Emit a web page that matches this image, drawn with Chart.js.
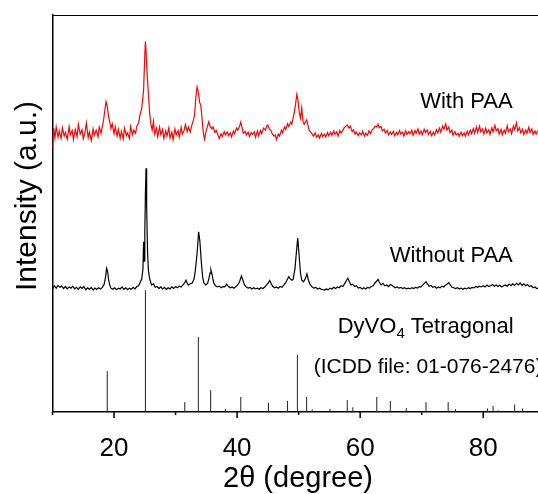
<!DOCTYPE html>
<html lang="en">
<head>
<meta charset="UTF-8">
<title>XRD - DyVO4</title>
<script src="https://cdn.jsdelivr.net/npm/chart.js@4.4.0/dist/chart.umd.min.js"></script>
<style>
    html, body { margin: 0; padding: 0; background: #fff; }
    #chart { display: block; }
</style>
</head>
<body>

<canvas id="chart" width="538" height="494"></canvas>

<script>
    // 2theta (degree), intensity (a.u., already offset for stacking)
    var withPAA = [
        [10.0,66.5],[10.2,71.5],[10.4,69.0],[10.6,71.8],[10.9,69.2],[11.1,70.8],[11.4,68.9],[11.6,71.6],[11.9,69.5],[12.1,70.4],
        [12.4,68.7],[12.7,71.9],[12.9,69.8],[13.2,70.9],[13.4,68.6],[13.7,71.2],[14.0,69.4],[14.2,72.5],[14.5,70.0],[14.8,71.1],
        [15.0,68.8],[15.3,70.6],[15.5,72.8],[15.8,69.1],[16.0,70.5],[16.3,68.4],[16.6,71.3],[16.8,69.7],[17.1,71.0],[17.4,69.3],
        [17.6,71.8],[17.9,70.2],[18.1,72.0],[18.3,73.5],[18.5,76.0],[18.7,78.2],[18.9,77.0],[19.1,74.5],[19.3,73.0],[19.5,71.4],
        [19.7,72.6],[20.0,70.1],[20.2,71.8],[20.5,69.5],[20.7,71.2],[21.0,69.0],[21.2,70.7],[21.5,68.8],[21.7,71.5],[22.0,69.6],
        [22.2,70.3],[22.5,68.9],[22.7,71.9],[23.0,69.8],[23.2,71.0],[23.5,70.2],[23.7,72.0],[24.0,72.8],[24.2,74.8],[24.5,76.5],
        [24.8,81.0],[25.0,90.0],[25.1,93.3],[25.2,91.0],[25.4,84.5],[25.6,79.8],[25.8,75.0],[26.0,72.5],[26.2,71.0],[26.4,73.2],
        [26.6,70.0],[26.9,71.5],[27.1,69.3],[27.4,71.8],[27.6,69.9],[27.9,71.2],[28.1,68.9],[28.4,70.8],[28.6,69.5],[28.9,71.6],
        [29.1,69.0],[29.4,70.5],[29.6,68.6],[29.9,71.3],[30.1,69.8],[30.4,70.9],[30.6,69.2],[30.9,71.7],[31.1,70.0],[31.4,71.0],
        [31.6,72.4],[31.9,70.6],[32.1,71.8],[32.4,70.5],[32.6,72.0],[32.9,73.5],[33.1,75.0],[33.3,79.5],[33.5,81.9],[33.7,80.5],
        [33.9,78.0],[34.1,77.3],[34.3,74.0],[34.5,70.5],[34.7,68.7],[34.9,70.3],[35.1,71.5],[35.4,73.1],[35.6,72.0],[35.9,71.3],
        [36.1,71.8],[36.4,70.4],[36.6,71.0],[36.9,69.7],[37.1,68.9],[37.4,70.1],[37.6,69.4],[37.9,70.6],[38.1,69.8],[38.4,70.5],
        [38.6,69.6],[38.9,70.3],[39.1,69.3],[39.4,70.8],[39.6,70.1],[39.9,71.5],[40.1,71.0],[40.4,72.0],[40.6,73.0],[40.8,71.6],
        [41.0,70.2],[41.3,70.7],[41.5,69.8],[41.8,70.5],[42.0,69.4],[42.3,70.4],[42.5,69.9],[42.8,70.6],[43.0,69.2],[43.3,70.8],
        [43.5,69.6],[43.8,70.9],[44.0,70.1],[44.3,71.5],[44.6,71.0],[44.8,72.0],[45.0,72.3],[45.2,71.4],[45.5,70.9],[45.7,70.1],
        [46.0,69.5],[46.2,69.8],[46.4,68.6],[46.7,70.0],[46.9,69.5],[47.2,71.0],[47.4,70.3],[47.7,71.8],[47.9,71.2],[48.2,72.6],
        [48.4,71.9],[48.7,73.0],[48.9,72.5],[49.1,74.0],[49.3,75.6],[49.5,77.5],[49.7,80.0],[49.9,78.5],[50.1,75.5],[50.3,74.0],
        [50.5,76.6],[50.7,73.2],[50.9,72.5],[51.1,73.0],[51.3,73.6],[51.5,72.4],[51.7,71.0],[51.9,70.6],[52.2,70.0],[52.4,69.5],
        [52.7,70.3],[52.9,69.2],[53.2,69.8],[53.4,69.0],[53.7,70.2],[53.9,69.4],[54.2,70.0],[54.4,69.3],[54.7,70.4],[54.9,69.6],
        [55.2,70.5],[55.4,69.7],[55.7,70.8],[55.9,69.9],[56.2,70.6],[56.4,69.5],[56.7,70.9],[56.9,70.2],[57.2,71.0],[57.4,71.6],
        [57.7,72.0],[57.9,72.3],[58.2,71.5],[58.4,72.0],[58.7,70.6],[58.9,71.1],[59.2,70.0],[59.4,70.5],[59.7,69.6],[59.9,70.3],
        [60.2,69.8],[60.4,70.7],[60.7,69.5],[60.9,70.2],[61.2,69.7],[61.4,70.8],[61.7,70.1],[61.9,71.0],[62.2,71.4],[62.4,72.0],
        [62.7,71.8],[62.9,72.5],[63.1,71.6],[63.4,71.9],[63.6,70.8],[63.9,71.2],[64.1,70.3],[64.4,70.9],[64.6,69.8],[64.9,70.6],
        [65.1,69.9],[65.4,70.7],[65.6,69.6],[65.9,70.4],[66.1,69.8],[66.4,70.9],[66.6,70.0],[66.9,70.5],[67.1,69.5],[67.4,70.8],
        [67.6,69.9],[67.9,70.6],[68.1,70.1],[68.4,71.0],[68.6,69.7],[68.9,70.9],[69.1,70.2],[69.4,71.3],[69.6,70.0],[69.9,70.8],
        [70.1,69.8],[70.4,71.2],[70.6,70.4],[70.9,71.0],[71.1,69.9],[71.4,70.7],[71.6,69.6],[71.9,70.5],[72.1,69.8],[72.4,71.1],
        [72.6,70.3],[72.9,71.5],[73.1,70.5],[73.4,72.0],[73.6,71.2],[73.9,72.6],[74.1,71.0],[74.4,71.8],[74.6,70.4],[74.9,71.0],
        [75.1,69.7],[75.4,70.6],[75.6,69.8],[75.9,70.2],[76.1,69.4],[76.4,70.5],[76.6,69.6],[76.9,70.3],[77.1,69.5],[77.4,70.7],
        [77.6,69.8],[77.9,71.0],[78.1,70.1],[78.4,71.4],[78.6,70.2],[78.9,71.8],[79.1,70.4],[79.4,72.0],[79.6,70.6],[79.9,71.3],
        [80.1,70.0],[80.4,71.5],[80.6,70.3],[80.9,71.1],[81.1,69.9],[81.4,71.6],[81.6,70.5],[81.9,72.2],[82.1,70.8],[82.4,71.4],
        [82.6,70.0],[82.9,71.2],[83.1,69.8],[83.4,71.0],[83.6,70.2],[83.9,72.1],[84.1,70.6],[84.4,71.3],[84.6,70.1],[84.9,72.0],
        [85.1,71.1],[85.4,72.8],[85.6,70.8],[85.9,71.6],[86.1,70.3],[86.4,71.2],[86.6,69.9],[86.9,71.0],[87.1,70.2],[87.4,71.7],
        [87.6,70.4],[87.9,71.3],[88.1,69.9],[88.4,70.8],[88.6,70.0],[88.9,70.9]
    ];

    var withoutPAA = [
        [10.0,31.0],[10.3,31.8],[10.6,31.2],[10.9,31.9],[11.2,31.4],[11.5,31.7],[11.8,31.1],[12.1,31.6],[12.4,31.0],[12.7,31.5],
        [13.0,31.2],[13.3,31.7],[13.6,31.0],[13.9,31.4],[14.2,30.9],[14.5,31.5],[14.8,31.1],[15.1,31.6],[15.4,30.8],[15.7,31.3],
        [16.0,30.9],[16.3,31.4],[16.6,30.7],[16.9,31.2],[17.2,30.9],[17.5,31.3],[17.8,31.0],[18.1,31.4],[18.4,32.2],[18.6,33.8],
        [18.8,36.2],[18.95,35.5],[19.1,33.5],[19.3,32.0],[19.5,31.2],[19.8,30.9],[20.1,31.3],[20.4,30.8],[20.7,31.2],[21.0,31.0],
        [21.3,31.5],[21.6,30.9],[21.9,31.3],[22.2,30.8],[22.5,31.2],[22.8,30.9],[23.1,31.4],[23.4,31.0],[23.7,31.6],[24.0,31.8],
        [24.2,32.5],[24.5,33.5],[24.7,36.0],[24.8,42.9],[24.9,38.0],[25.0,45.0],[25.1,55.0],[25.2,61.4],[25.3,52.0],[25.45,40.0],
        [25.6,35.5],[25.8,33.5],[26.1,32.0],[26.4,32.3],[26.7,31.4],[27.0,31.6],[27.3,31.1],[27.6,31.5],[27.9,31.0],[28.2,31.4],
        [28.5,30.9],[28.8,31.3],[29.1,31.0],[29.4,31.5],[29.7,31.1],[30.0,31.6],[30.3,31.3],[30.6,31.7],[30.9,31.5],[31.2,32.0],
        [31.5,32.6],[31.7,33.2],[31.9,32.4],[32.1,32.0],[32.4,32.3],[32.7,32.5],[33.0,33.5],[33.2,35.5],[33.5,40.0],[33.75,45.4],
        [33.95,43.0],[34.2,37.5],[34.4,34.0],[34.6,32.5],[34.9,32.0],[35.2,32.4],[35.4,33.5],[35.6,35.0],[35.75,35.8],[35.95,34.5],
        [36.2,32.5],[36.5,31.8],[36.8,31.5],[37.1,31.7],[37.4,31.3],[37.7,31.6],[38.0,31.5],[38.3,32.2],[38.6,31.6],[38.9,31.3],
        [39.2,31.5],[39.5,31.2],[39.8,31.6],[40.1,32.0],[40.4,32.8],[40.7,34.3],[40.95,33.2],[41.2,32.0],[41.5,31.5],[41.8,31.2],
        [42.1,31.4],[42.4,31.0],[42.7,31.3],[43.0,31.0],[43.3,31.2],[43.6,30.9],[43.9,31.3],[44.2,31.1],[44.5,31.5],[44.8,32.0],
        [45.1,32.6],[45.3,33.1],[45.55,32.3],[45.8,31.6],[46.1,31.3],[46.4,31.5],[46.7,31.2],[47.0,31.6],[47.3,31.4],[47.6,32.0],
        [47.9,32.6],[48.2,33.5],[48.4,34.1],[48.6,33.6],[48.9,33.2],[49.1,33.4],[49.4,36.0],[49.65,40.5],[49.85,43.8],[50.05,40.0],
        [50.3,35.0],[50.5,33.2],[50.8,32.8],[51.1,33.6],[51.35,34.8],[51.6,33.2],[51.9,32.0],[52.2,31.5],[52.5,31.2],[52.8,31.4],
        [53.1,31.0],[53.4,31.2],[53.7,30.9],[54.0,30.8],[54.2,30.7],[54.5,31.0],[54.8,30.8],[55.1,31.2],[55.4,31.0],[55.7,31.4],
        [56.0,31.1],[56.3,31.5],[56.6,31.3],[56.9,31.8],[57.2,31.6],[57.5,32.4],[57.8,33.2],[58.0,33.7],[58.25,32.8],[58.5,32.0],
        [58.8,32.2],[59.1,31.6],[59.4,31.8],[59.7,31.2],[60.0,31.4],[60.3,31.0],[60.6,31.3],[60.9,31.0],[61.2,31.4],[61.5,31.2],
        [61.8,31.6],[62.1,31.8],[62.4,32.5],[62.7,33.0],[62.9,33.4],[63.15,32.6],[63.4,32.0],[63.7,32.4],[64.0,31.8],[64.3,32.0],
        [64.6,31.6],[64.9,32.1],[65.1,32.0],[65.4,31.6],[65.7,31.3],[66.0,31.5],[66.3,31.2],[66.6,31.4],[66.9,31.1],[67.2,31.3],
        [67.5,31.0],[67.8,31.2],[68.1,31.0],[68.4,31.3],[68.7,31.1],[69.0,31.4],[69.3,31.2],[69.6,31.6],[69.9,31.5],[70.2,32.0],
        [70.5,32.5],[70.7,32.8],[70.95,32.2],[71.2,31.7],[71.5,31.9],[71.8,31.4],[72.1,31.6],[72.4,31.2],[72.7,31.5],[73.0,31.3],
        [73.3,31.7],[73.6,31.5],[73.9,32.0],[74.2,32.3],[74.4,32.6],[74.65,32.0],[74.9,31.5],[75.2,31.3],[75.5,31.1],[75.8,31.3],
        [76.1,31.0],[76.4,31.2],[76.7,30.9],[77.0,31.2],[77.3,31.0],[77.6,31.3],[77.9,31.1],[78.2,31.4],[78.5,31.3],[78.8,31.6],
        [79.1,31.4],[79.4,31.7],[79.7,31.5],[80.0,31.8],[80.3,31.5],[80.6,32.0],[80.9,31.6],[81.2,31.8],[81.5,32.1],[81.8,31.7],
        [82.1,32.0],[82.4,31.6],[82.7,31.9],[83.0,31.5],[83.3,31.8],[83.6,32.0],[83.9,31.7],[84.2,32.2],[84.5,31.8],[84.8,32.3],
        [85.1,31.9],[85.4,32.4],[85.7,32.0],[86.0,32.5],[86.3,31.9],[86.6,32.3],[86.9,31.8],[87.2,32.1],[87.5,31.6],[87.8,31.8],
        [88.1,31.3],[88.4,31.5],[88.7,31.1],[89.0,31.2]
    ];

    // DyVO4 tetragonal reference lines (ICDD 01-076-2476)
    var refPos = [18.9, 25.1, 31.5, 33.7, 35.7, 38.1, 40.6, 45.1, 48.2, 49.8, 51.3, 52.2, 55.1, 57.9, 58.8,
                  62.7, 64.9, 67.5, 70.7, 74.3, 75.5, 80.7, 81.6, 82.4, 85.1, 86.4];
    var refInt = [10.3, 30.7, 2.5, 18.9, 5.5, 0.8, 3.8, 2.3, 2.8, 14.4, 3.8, 0.7, 0.8, 3.0, 1.2,
                  3.8, 2.8, 1.0, 2.5, 2.5, 0.7, 0.9, 1.5, 0.4, 1.9, 0.9];

    var majorTicks = [20, 40, 60, 80];
    var minorTicks = [10, 30, 50, 70];

    var FONT = '"Liberation Sans", Arial, sans-serif';

    function toPoints(arr) {
        return arr.map(function (p) { return {x: p[0], y: p[1]}; });
    }

    // each stick: base -> top -> gap
    var stickData = [];
    for (var i = 0; i < refPos.length; i++) {
        stickData.push({x: refPos[i], y: 0}, {x: refPos[i], y: refInt[i]}, {x: refPos[i], y: null});
    }

    var decorPlugin = {
        id: 'decor',
        afterDraw: function (chart) {
            var ctx = chart.ctx;
            var area = chart.chartArea;
            var xs = chart.scales.x;
            var ys = chart.scales.y;
            ctx.save();

            // top frame line
            ctx.strokeStyle = '#000';
            ctx.lineWidth = 1;
            ctx.beginPath();
            ctx.moveTo(area.left, area.top + 0.5);
            ctx.lineTo(area.right, area.top + 0.5);
            ctx.stroke();

            // tick marks, outward
            ctx.lineWidth = 1.5;
            majorTicks.forEach(function (v) {
                var px = xs.getPixelForValue(v);
                ctx.beginPath(); ctx.moveTo(px, area.bottom); ctx.lineTo(px, area.bottom + 6); ctx.stroke();
            });
            minorTicks.forEach(function (v) {
                var px = xs.getPixelForValue(v);
                ctx.beginPath(); ctx.moveTo(px, area.bottom); ctx.lineTo(px, area.bottom + 3); ctx.stroke();
            });

            // curve labels
            ctx.fillStyle = '#000';
            ctx.textAlign = 'left';
            ctx.textBaseline = 'alphabetic';
            ctx.font = '22px ' + FONT;
            ctx.fillText('With PAA', xs.getPixelForValue(69.75), ys.getPixelForValue(76.5));
            ctx.fillText('Without PAA', xs.getPixelForValue(64.8), ys.getPixelForValue(37.8));

            var tx = xs.getPixelForValue(56.35);
            var ty = ys.getPixelForValue(19.9);
            ctx.fillText('DyVO', tx, ty);
            tx += ctx.measureText('DyVO').width;
            ctx.font = '15px ' + FONT;
            ctx.fillText('4', tx, ty + 5);
            tx += ctx.measureText('4').width;
            ctx.font = '22px ' + FONT;
            ctx.fillText(' Tetragonal', tx, ty);

            ctx.font = '21px ' + FONT;
            ctx.fillText('(ICDD file: 01-076-2476)', xs.getPixelForValue(52.45), ys.getPixelForValue(9.8));

            // axis titles
            ctx.font = '29px ' + FONT;
            ctx.textAlign = 'center';
            ctx.fillText('2\u03B8 (degree)', 298, 487);

            ctx.translate(36, 196);
            ctx.rotate(-Math.PI / 2);
            ctx.font = '30px ' + FONT;
            ctx.fillText('Intensity (a.u.)', 0, 0);
            ctx.restore();
        }
    };

    var chart = new Chart(document.getElementById('chart'), {
        type: 'line',
        data: {
            datasets: [
                {
                    label: 'With PAA',
                    data: toPoints(withPAA),
                    borderColor: '#ff0000',
                    borderWidth: 1.2,
                    pointRadius: 0,
                    tension: 0
                },
                {
                    label: 'Without PAA',
                    data: toPoints(withoutPAA),
                    borderColor: '#000000',
                    borderWidth: 1.2,
                    pointRadius: 0,
                    tension: 0
                },
                {
                    label: 'DyVO4 reference',
                    data: stickData,
                    borderColor: '#222222',
                    borderWidth: 1,
                    pointRadius: 0,
                    spanGaps: false
                }
            ]
        },
        options: {
            responsive: false,
            devicePixelRatio: 1,
            animation: false,
            layout: { padding: { top: 15, left: 0, right: 0, bottom: 0 } },
            plugins: {
                legend: { display: false },
                tooltip: { enabled: false }
            },
            scales: {
                x: {
                    type: 'linear',
                    min: 10,
                    max: 88.9,
                    grid: { display: false },
                    border: { display: true, color: '#000', width: 1.5 },
                    ticks: {
                        stepSize: 10,
                        includeBounds: false,
                        autoSkip: false,
                        maxRotation: 0,
                        padding: 13,
                        color: '#000',
                        font: { family: FONT, size: 26 },
                        callback: function (value) {
                            return majorTicks.indexOf(value) >= 0 ? String(value) : '';
                        }
                    },
                    afterFit: function (scale) { scale.height = 82; }
                },
                y: {
                    min: 0,
                    max: 100,
                    grid: { display: false },
                    border: { display: true, color: '#000', width: 1.5 },
                    ticks: { display: false },
                    afterFit: function (scale) { scale.width = 52.5; }
                }
            }
        },
        plugins: [decorPlugin]
    });
</script>

</body>
</html>
